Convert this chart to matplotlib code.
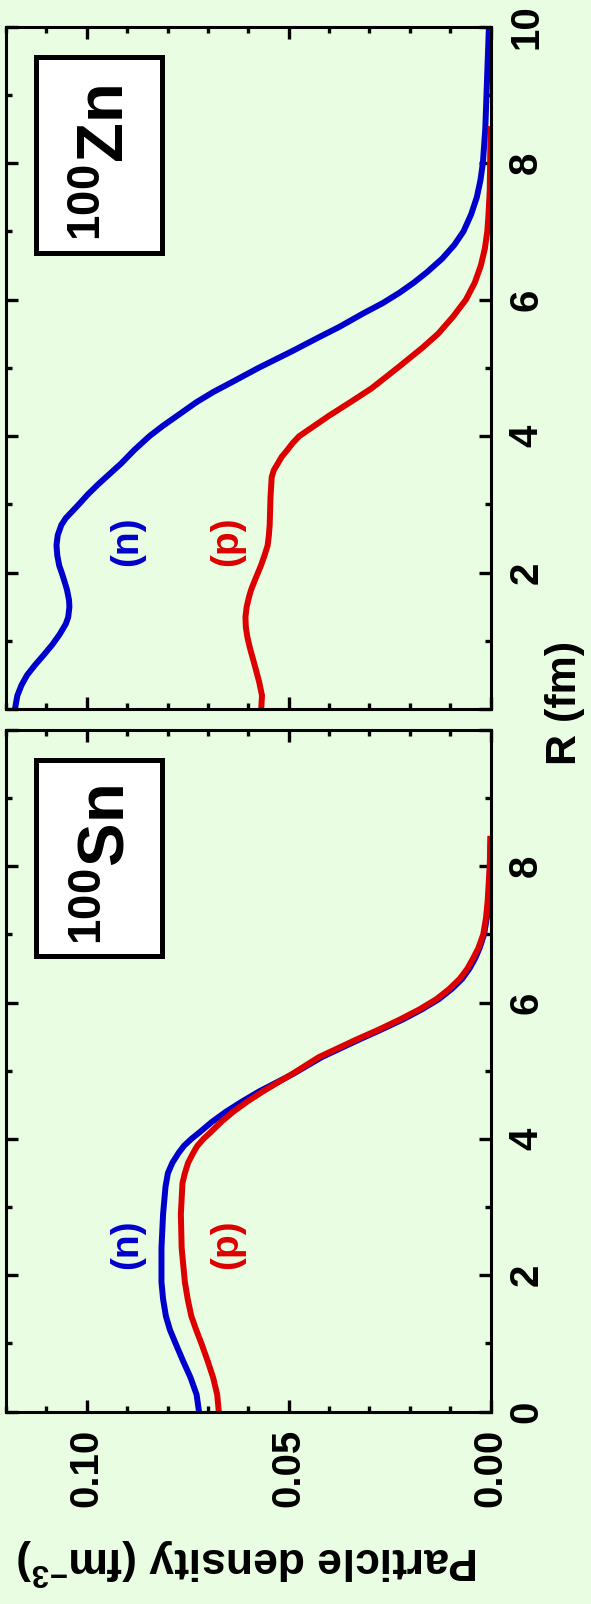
import matplotlib.pyplot as plt
from matplotlib.patches import Rectangle
from matplotlib.ticker import MultipleLocator, FixedLocator, FuncFormatter

plt.rcParams["font.family"] = ["Liberation Sans", "DejaVu Sans"]
plt.rcParams["font.weight"] = "bold"
plt.rcParams["mathtext.default"] = "regular"

BG = "#e8fde1"
BLUE = "#0000cc"
RED = "#dd0000"

# 100Sn densities (fm^-3) against radius R (fm)
sn_n_r = [0.0, 0.25, 0.5, 0.75, 1.0, 1.2, 1.4, 1.65, 1.9, 2.4, 2.9, 3.3, 3.5,
          3.65, 3.8, 3.9, 4.0, 4.1, 4.25, 4.4, 4.55, 4.7, 4.95, 5.2, 5.45,
          5.6, 5.75, 5.9, 6.05, 6.2, 6.35, 6.5, 6.65, 6.8, 7.0, 7.25, 7.5,
          8.0, 8.4]
sn_n = [0.0722, 0.0728, 0.0743, 0.0762, 0.0780, 0.0794, 0.0804, 0.0811,
        0.0815, 0.0815, 0.0811, 0.0805, 0.0799, 0.0788, 0.0772, 0.0759,
        0.0741, 0.0720, 0.0690, 0.0655, 0.0615, 0.0572, 0.0490, 0.0418,
        0.0328, 0.0272, 0.0218, 0.0170, 0.0128, 0.0096, 0.0070, 0.0052,
        0.0038, 0.0027, 0.0016, 0.0009, 0.0005, 0.0001, 0.0]
sn_p_r = [0.0, 0.25, 0.5, 0.75, 1.0, 1.2, 1.4, 1.65, 1.9, 2.4, 2.9, 3.35, 3.5,
          3.65, 3.8, 3.9, 4.0, 4.1, 4.25, 4.4, 4.55, 4.7, 4.95, 5.2, 5.45,
          5.6, 5.75, 5.9, 6.05, 6.2, 6.35, 6.5, 6.65, 6.8, 7.0, 7.25, 7.5,
          8.0, 8.4]
sn_p = [0.0673, 0.0677, 0.0687, 0.0701, 0.0716, 0.0729, 0.0741, 0.0750,
        0.0757, 0.0765, 0.0767, 0.0763, 0.0757, 0.0749, 0.0736, 0.0726,
        0.0711, 0.0693, 0.0667, 0.0637, 0.0602, 0.0563, 0.0492, 0.0425,
        0.0335, 0.0278, 0.0225, 0.0176, 0.0134, 0.0102, 0.0076, 0.0057,
        0.0043, 0.0030, 0.0018, 0.0011, 0.0007, 0.0002, 0.0]

# 100Zn densities
zn_n_r = [0.0, 0.2, 0.35, 0.5, 0.65, 0.8, 0.95, 1.1, 1.25, 1.35, 1.5, 1.6,
          1.75, 1.85, 2.0, 2.1, 2.25, 2.4, 2.55, 2.7, 2.8, 2.9, 3.0, 3.15,
          3.3, 3.45, 3.6, 3.8, 4.0, 4.15, 4.3, 4.5, 4.65, 4.8, 5.0, 5.25,
          5.45, 5.6, 5.8, 5.95, 6.1, 6.25, 6.4, 6.6, 6.8, 7.0, 7.25, 7.5,
          7.75, 8.0, 8.5, 9.0, 9.5, 10.0]
zn_n = [0.1178, 0.1172, 0.1162, 0.1148, 0.1128, 0.1106, 0.1085, 0.1067,
        0.1052, 0.1046, 0.1043, 0.1044, 0.1049, 0.1054, 0.1062, 0.1068,
        0.1073, 0.1075, 0.1072, 0.1063, 0.1052, 0.1036, 0.1020, 0.0997,
        0.0971, 0.0943, 0.0915, 0.0882, 0.0845, 0.0812, 0.0776, 0.0728,
        0.0686, 0.0638, 0.0575, 0.0490, 0.0425, 0.0375, 0.0315, 0.0267,
        0.0226, 0.0190, 0.0158, 0.0120, 0.0090, 0.0067, 0.0048, 0.0034,
        0.0025, 0.0019, 0.0013, 0.0010, 0.0007, 0.0004]
zn_p_r = [0.0, 0.2, 0.4, 0.6, 0.75, 0.9, 1.05, 1.2, 1.35, 1.5, 1.65, 1.75,
          1.9, 2.1, 2.25, 2.4, 2.55, 2.7, 3.1, 3.4, 3.5, 3.6, 3.7, 3.8, 3.9,
          4.0, 4.15, 4.3, 4.5, 4.7, 4.9, 5.05, 5.3, 5.5, 5.75, 6.0, 6.25,
          6.5, 6.75, 7.0, 7.25, 7.6, 8.0, 8.5]
zn_p = [0.0568, 0.0566, 0.0573, 0.0582, 0.0589, 0.0596, 0.0602, 0.0606,
        0.0607, 0.0604, 0.0598, 0.0593, 0.0583, 0.0569, 0.0560, 0.0552,
        0.0549, 0.0547, 0.0545, 0.0542, 0.0537, 0.0527, 0.0517, 0.0503,
        0.0490, 0.0474, 0.0437, 0.0400, 0.0347, 0.0295, 0.0252, 0.0220,
        0.0168, 0.0130, 0.0093, 0.0061, 0.0039, 0.0024, 0.0014, 0.0008,
        0.0005, 0.0002, 0.0001, 0.0]


def style_panel(ax, nucleus, r_labels, density_labels):
    ax.set_facecolor(BG)
    ax.set_xlim(0.12, 0.0)
    ax.set_ylim(0, 10)
    ax.xaxis.set_major_locator(FixedLocator([0.0, 0.05, 0.10]))
    ax.xaxis.set_minor_locator(MultipleLocator(0.01))
    ax.yaxis.set_major_locator(MultipleLocator(2))
    ax.yaxis.set_minor_locator(MultipleLocator(1))
    ax.xaxis.set_major_formatter(FuncFormatter(lambda v, p: f"{v:.2f}"))
    ax.yaxis.set_major_formatter(
        FuncFormatter(lambda v, p: f"{v:g}" if round(v) in r_labels else ""))
    ax.tick_params(which="both", direction="in", top=True, bottom=True,
                   left=True, right=True, width=2.4, labelsize=29, pad=12)
    ax.tick_params(which="major", length=8.5)
    ax.tick_params(which="minor", length=4.6)
    ax.tick_params(axis="x", labelbottom=density_labels, labelrotation=90)
    ax.tick_params(axis="y", labelleft=False, labelright=True, labelrotation=90)
    plt.setp(ax.get_yticklabels(), va="center")
    for s in ax.spines.values():
        s.set_linewidth(2.2)

    ax.add_patch(Rectangle((0.0613, 0.669), 0.2613, 0.287, transform=ax.transAxes,
                           facecolor="white", edgecolor="black", lw=3.6, zorder=5))
    ax.text(0.2085, 0.801, r"$^{100}$" + nucleus, transform=ax.transAxes,
            rotation=90, ha="center", va="center", fontsize=47, zorder=6)
    ax.text(0.0899, 2.46, "(n)", color=BLUE, rotation=90, ha="center",
            va="center", fontsize=28)
    ax.text(0.0653, 2.46, "(p)", color=RED, rotation=90, ha="center",
            va="center", fontsize=28)


fig = plt.figure(figsize=(5.91, 16.04), dpi=100, facecolor=BG)
ax_sn = fig.add_axes([0.0102, 0.1199, 0.8198, 0.4251])
ax_zn = fig.add_axes([0.0102, 0.5578, 0.8198, 0.4256])

lw = 4.3
ax_sn.plot(sn_n, sn_n_r, color=BLUE, lw=lw, solid_joinstyle="round")
ax_sn.plot(sn_p, sn_p_r, color=RED, lw=lw, solid_joinstyle="round")
ax_zn.plot(zn_n, zn_n_r, color=BLUE, lw=lw, solid_joinstyle="round")
ax_zn.plot(zn_p, zn_p_r, color=RED, lw=lw, solid_joinstyle="round")

style_panel(ax_sn, "Sn", {0, 2, 4, 6, 8}, True)
style_panel(ax_zn, "Zn", {2, 4, 6, 8, 10}, False)

fig.text(248 / 591, 0.0268, r"Particle density (fm$^{-3}$)", rotation=180,
         ha="center", va="center", fontsize=32)
fig.text(0.956, 0.5617, "R (fm)", rotation=90, ha="center", va="center",
         fontsize=31)

fig.savefig("out.png", dpi=100, facecolor=BG)
